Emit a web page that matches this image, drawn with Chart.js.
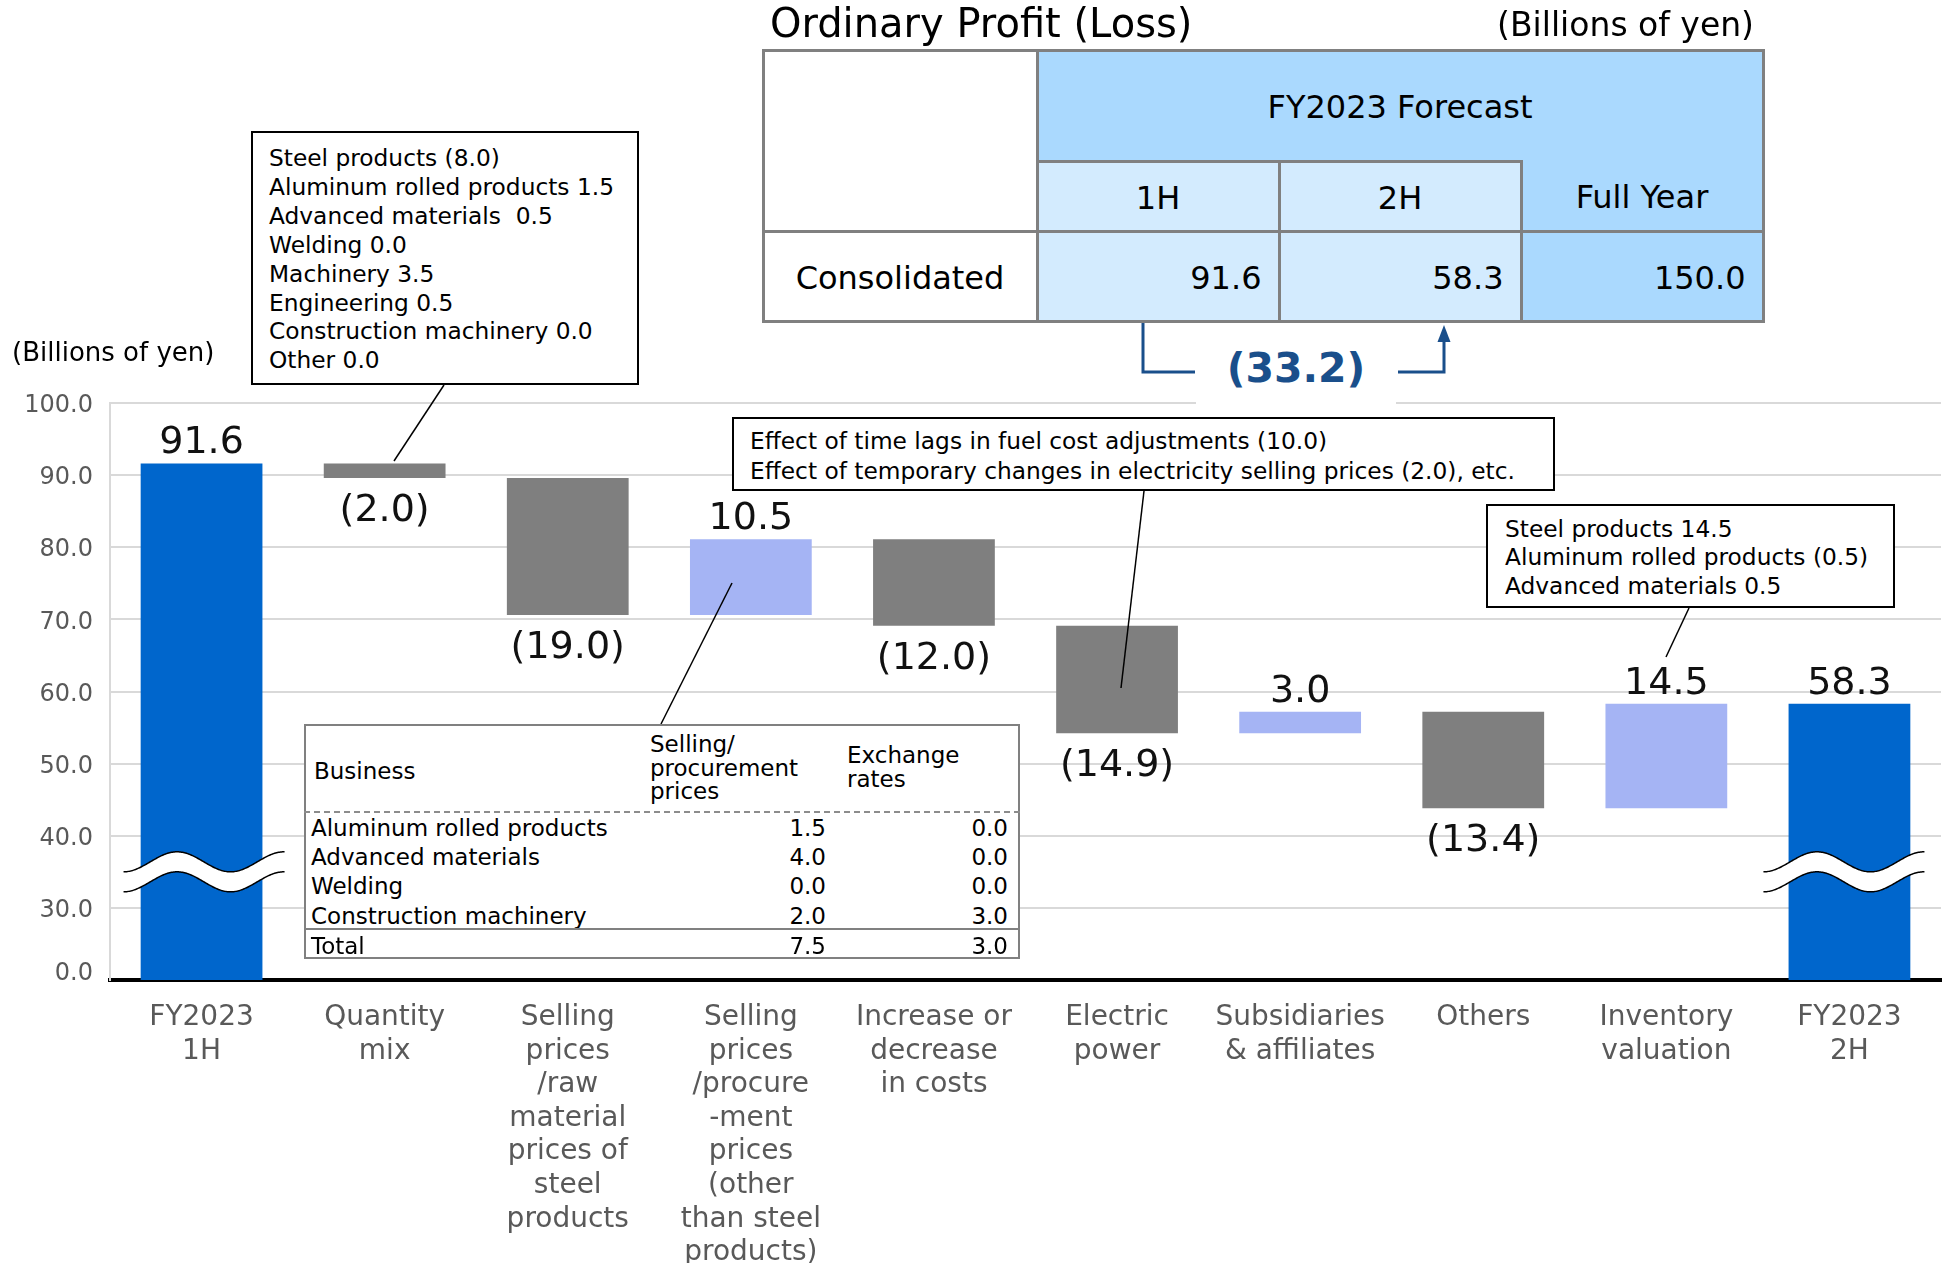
<!DOCTYPE html>
<html>
<head>
<meta charset="utf-8">
<title>Ordinary Profit (Loss)</title>
<script src="https://cdn.jsdelivr.net/npm/chart.js@4.4.1/dist/chart.umd.min.js"></script>
<style>
  html, body { margin: 0; padding: 0; background: #fff; }
  #stage { position: relative; width: 1945px; height: 1263px; overflow: hidden;
           font-family: 'DejaVu Sans', Verdana, sans-serif; color: #000; }
  #chart { position: absolute; left: 0; top: 0; }
  .abs { position: absolute; white-space: pre; }
  .box { position: absolute; box-sizing: border-box; background: #fff; }
  .cell { position: absolute; box-sizing: border-box; border: 3px solid #808080;
          display: flex; align-items: center; font-size: 32px; padding-top: 4px; }
</style>
</head>
<body>
<div id="stage">
  <canvas id="chart" width="1945" height="1263"></canvas>
</div>
<script>
// chart data
const categories = [
    ['FY2023', '1H'],
    ['Quantity', 'mix'],
    ['Selling', 'prices', '/raw', 'material', 'prices of', 'steel', 'products'],
    ['Selling', 'prices', '/procure', '-ment', 'prices', '(other', 'than steel', 'products)'],
    ['Increase or', 'decrease', 'in costs'],
    ['Electric', 'power'],
    ['Subsidiaries', '& affiliates'],
    ['Others'],
    ['Inventory', 'valuation'],
    ['FY2023', '2H']
];
const changeValues = [91.6, -2.0, -19.0, 10.5, -12.0, -14.9, 3.0, -13.4, 14.5, 58.3];
const isTotal = [true, false, false, false, false, false, false, false, false, true];
const yTickValues = [0, 30, 40, 50, 60, 70, 80, 90, 100];

// forecast table
const forecastColumns = ['1H', '2H', 'Full Year'];
const forecastValues = [91.6, 58.3, 150.0];
const forecastDiff = -33.2;

// callouts
const quantityMixNotes = [
    'Steel products (8.0)',
    'Aluminum rolled products 1.5',
    'Advanced materials  0.5',
    'Welding 0.0',
    'Machinery 3.5',
    'Engineering 0.5',
    'Construction machinery 0.0',
    'Other 0.0'
];
const electricNotes = [
    'Effect of time lags in fuel cost adjustments (10.0)',
    'Effect of temporary changes in electricity selling prices (2.0), etc.'
];
const inventoryNotes = [
    'Steel products 14.5',
    'Aluminum rolled products (0.5)',
    'Advanced materials 0.5'
];
const bizNames = ['Aluminum rolled products', 'Advanced materials', 'Welding', 'Construction machinery'];
const bizSelling = [1.5, 4.0, 0.0, 2.0];
const bizExchange = [0.0, 0.0, 0.0, 3.0];
const bizTotal = [7.5, 3.0];

const W = 1945;
const COLOR_TOTAL = '#0066cc';
const COLOR_DOWN = '#7f7f7f';
const COLOR_UP = '#a5b4f4';
const TABLE_DARK = '#aad9fe';
const TABLE_LIGHT = '#d3ebfe';
const NOTE_BLUE = '#1a4f8b';

// broken axis: 0..30 squeezed into one grid step
const toAxis = v => (v >= 30 ? v : 20 + v / 3);
const fromAxis = v => (v >= 30 ? v : (v - 20) * 3);
const fmt = v => (v < 0 ? `(${Math.abs(v).toFixed(1)})` : v.toFixed(1));

document.addEventListener('DOMContentLoaded', () => {
    const stage = document.getElementById('stage');

    // 1. Build waterfall ranges
    let running = 0;
    const ranges = changeValues.map((v, i) => {
        if (isTotal[i]) {
            running = v;
            return [toAxis(0), toAxis(v)];
        }
        const start = running;
        running += v;
        return [toAxis(start), toAxis(running)];
    });
    const barColors = changeValues.map((v, i) => isTotal[i] ? COLOR_TOTAL : (v < 0 ? COLOR_DOWN : COLOR_UP));

    // 2. Labels, axis break waves, leader lines
    const overlayPlugin = {
        id: 'overlay',
        afterDatasetsDraw(chart) {
            const { ctx, scales: { y } } = chart;
            const meta = chart.getDatasetMeta(0);
            ctx.save();

            // value labels
            ctx.font = '38px "DejaVu Sans"';
            ctx.fillStyle = '#111';
            ctx.textAlign = 'center';
            ctx.textBaseline = 'middle';
            meta.data.forEach((bar, i) => {
                const v = changeValues[i];
                const top = Math.min(bar.y, bar.base);
                const bottom = Math.max(bar.y, bar.base);
                const ty = v < 0 ? bottom + 33 : top - 20;
                ctx.fillText(fmt(v), bar.x, ty);
            });

            // axis break waves on the total bars
            const yc = y.getPixelForValue(35);
            meta.data.forEach((bar, i) => {
                if (!isTotal[i]) return;
                const x0 = bar.x + (i === 0 ? -78 : -86);
                const x1 = x0 + 161;
                const wave = (px, off) => yc - 10 + off + 10 * Math.cos(2 * Math.PI * (px - x0) / 107);
                ctx.beginPath();
                for (let px = x0; px <= x1; px += 1) ctx.lineTo(px, wave(px, 0));
                for (let px = x1; px >= x0; px -= 1) ctx.lineTo(px, wave(px, 20));
                ctx.closePath();
                ctx.fillStyle = '#fff';
                ctx.fill();
                ctx.strokeStyle = '#000';
                ctx.lineWidth = 1.5;
                [0, 20].forEach(off => {
                    ctx.beginPath();
                    for (let px = x0; px <= x1; px += 1) ctx.lineTo(px, wave(px, off));
                    ctx.stroke();
                });
            });

            // callout leader lines
            ctx.strokeStyle = '#000';
            ctx.lineWidth = 1.5;
            [
                [444, 385, 394, 461],
                [1144, 491, 1121, 688],
                [1689, 608, 1666, 657],
                [661, 724, 732, 583]
            ].forEach(([ax, ay, bx, by]) => {
                ctx.beginPath();
                ctx.moveTo(ax, ay);
                ctx.lineTo(bx, by);
                ctx.stroke();
            });

            // 1H -> 2H bracket
            ctx.strokeStyle = NOTE_BLUE;
            ctx.fillStyle = NOTE_BLUE;
            ctx.lineWidth = 3;
            ctx.beginPath();
            ctx.moveTo(1143, 322);
            ctx.lineTo(1143, 372);
            ctx.lineTo(1195, 372);
            ctx.stroke();
            ctx.beginPath();
            ctx.moveTo(1398, 372);
            ctx.lineTo(1444, 372);
            ctx.lineTo(1444, 338);
            ctx.stroke();
            ctx.beginPath();
            ctx.moveTo(1444, 325);
            ctx.lineTo(1437.5, 342);
            ctx.lineTo(1450.5, 342);
            ctx.closePath();
            ctx.fill();

            ctx.restore();
        }
    };

    // 3. Chart
    new Chart(document.getElementById('chart'), {
        type: 'bar',
        data: {
            labels: categories,
            datasets: [{
                data: ranges,
                backgroundColor: barColors,
                borderWidth: 0,
                barPercentage: 0.665,
                categoryPercentage: 1.0
            }]
        },
        options: {
            responsive: false,
            animation: false,
            layout: { padding: { top: 403, right: 4, left: 0, bottom: 0 } },
            plugins: {
                legend: { display: false },
                tooltip: { enabled: false }
            },
            scales: {
                x: {
                    grid: { display: false, drawTicks: false },
                    border: { display: true, color: '#000', width: 4 },
                    ticks: {
                        color: '#595959',
                        font: { family: 'DejaVu Sans', size: 28, lineHeight: 1.2 },
                        padding: 21,
                        maxRotation: 0,
                        minRotation: 0,
                        autoSkip: false
                    },
                    afterFit: scale => { scale.height = 283; }
                },
                y: {
                    min: toAxis(0),
                    max: 100,
                    grid: {
                        drawTicks: false,
                        lineWidth: 2,
                        color: c => (c.tick && c.tick.value === toAxis(0) ? 'rgba(0,0,0,0)' : '#d9d9d9')
                    },
                    border: { color: '#d9d9d9', width: 2 },
                    afterBuildTicks: scale => {
                        scale.ticks = yTickValues.map(v => ({ value: toAxis(v) }));
                    },
                    ticks: {
                        padding: 17,
                        color: '#595959',
                        font: { family: 'DejaVu Sans', size: 24, lineHeight: 0.25 },
                        // blank lines nudge the labels onto the reference baselines
                        callback: v => {
                            const label = fromAxis(v).toFixed(1);
                            return v === toAxis(0) ? [label, '', ''] : ['', label];
                        }
                    },
                    afterFit: scale => { scale.width = 110; }
                }
            }
        },
        plugins: [overlayPlugin]
    });

    // 4. HTML helpers for the annotation text
    const addText = (str, x, cy, size, opts = {}) => {
        const el = document.createElement('div');
        const lh = opts.lh || Math.round(size * 1.25);
        el.className = 'abs';
        el.textContent = str;
        el.style.fontSize = size + 'px';
        el.style.lineHeight = lh + 'px';
        el.style.top = (cy - lh / 2) + 'px';
        if (opts.weight) el.style.fontWeight = opts.weight;
        if (opts.color) el.style.color = opts.color;
        if (opts.align === 'right') {
            el.style.right = (W - x) + 'px';
            el.style.textAlign = 'right';
        } else if (opts.align === 'center') {
            el.style.left = x + 'px';
            el.style.transform = 'translateX(-50%)';
            el.style.textAlign = 'center';
        } else {
            el.style.left = x + 'px';
        }
        stage.appendChild(el);
        return el;
    };
    const addBox = (x0, y0, x1, y1, border) => {
        const el = document.createElement('div');
        el.className = 'box';
        el.style.left = x0 + 'px';
        el.style.top = y0 + 'px';
        el.style.width = (x1 - x0) + 'px';
        el.style.height = (y1 - y0) + 'px';
        el.style.border = border;
        stage.appendChild(el);
        return el;
    };
    const addCell = (x0, y0, x1, y1, bg, text, opts = {}) => {
        const el = document.createElement('div');
        el.className = 'cell';
        el.style.left = (x0 - 1.5) + 'px';
        el.style.top = (y0 - 1.5) + 'px';
        el.style.width = (x1 - x0 + 3) + 'px';
        el.style.height = (y1 - y0 + 3) + 'px';
        el.style.background = bg;
        (opts.noBorder || []).forEach(side => { el.style['border' + side] = 'none'; });
        el.style.justifyContent = opts.right ? 'flex-end' : 'center';
        if (opts.right) el.style.paddingRight = '16px';
        if (opts.padTop !== undefined) el.style.paddingTop = opts.padTop + 'px';
        if (text) el.textContent = text;
        stage.appendChild(el);
        return el;
    };

    // 5. Axis unit and forecast table
    addText('(Billions of yen)', 12, 352, 26);
    addText('Ordinary Profit (Loss)', 770, 23, 40);
    addText('(Billions of yen)', 1754, 24, 33, { align: 'right' });

    const colX = [1037, 1279, 1521, 1763];
    addCell(763, 50, 1037, 231, '#fff', '');
    addCell(1037, 50, 1763, 161, TABLE_DARK, 'FY2023 Forecast', { noBorder: ['Bottom'], padTop: 0 });
    forecastColumns.forEach((name, i) => {
        const full = i === forecastColumns.length - 1;
        addCell(colX[i], 161, colX[i + 1], 231, full ? TABLE_DARK : TABLE_LIGHT, name,
            full ? { noBorder: ['Top'] } : {});
    });
    addCell(763, 231, 1037, 321, '#fff', 'Consolidated');
    forecastValues.forEach((v, i) => {
        const full = i === forecastValues.length - 1;
        addCell(colX[i], 231, colX[i + 1], 321, full ? TABLE_DARK : TABLE_LIGHT, v.toFixed(1), { right: true });
    });

    const diff = document.createElement('div');
    diff.className = 'abs';
    diff.style.cssText = `left:1196px;top:335px;width:200px;height:73px;background:#fff;text-align:center;
        font-size:41px;line-height:66px;font-weight:bold;color:${NOTE_BLUE};`;
    diff.textContent = fmt(forecastDiff);
    stage.appendChild(diff);

    // 6. Callout boxes
    addBox(251, 131, 639, 385, '2px solid #000');
    addText(quantityMixNotes.join('\n'), 269, 158.5, 23.3, { lh: 28.9 });

    addBox(732, 417, 1555, 491, '2px solid #000');
    addText(electricNotes.join('\n'), 750, 441, 23.3, { lh: 29.5 });

    addBox(1486, 504, 1895, 608, '2px solid #000');
    addText(inventoryNotes.join('\n'), 1505, 529, 23.3, { lh: 28.5 });

    // 7. Business breakdown table
    addBox(304, 724, 1020, 959, '2px solid #808080');
    addText('Business', 314, 771, 23);
    addText('Selling/\nprocurement\nprices', 650, 745, 23, { lh: 23.5 });
    addText('Exchange\nrates', 847, 756, 23, { lh: 23.5 });
    const dash = addBox(304, 811, 1020, 813, 'none');
    dash.style.borderTop = '2px dashed #8c8c8c';
    dash.style.background = 'transparent';
    bizNames.forEach((name, i) => {
        const cy = 828 + i * 29.4;
        addText(name, 311, cy, 23);
        addText(bizSelling[i].toFixed(1), 826, cy, 23, { align: 'right' });
        addText(bizExchange[i].toFixed(1), 1008, cy, 23, { align: 'right' });
    });
    const rule = addBox(304, 928, 1020, 930, 'none');
    rule.style.borderTop = '2px solid #808080';
    rule.style.background = 'transparent';
    addText('Total', 311, 946, 23);
    addText(bizTotal[0].toFixed(1), 826, 946, 23, { align: 'right' });
    addText(bizTotal[1].toFixed(1), 1008, 946, 23, { align: 'right' });
});
</script>
</body>
</html>
